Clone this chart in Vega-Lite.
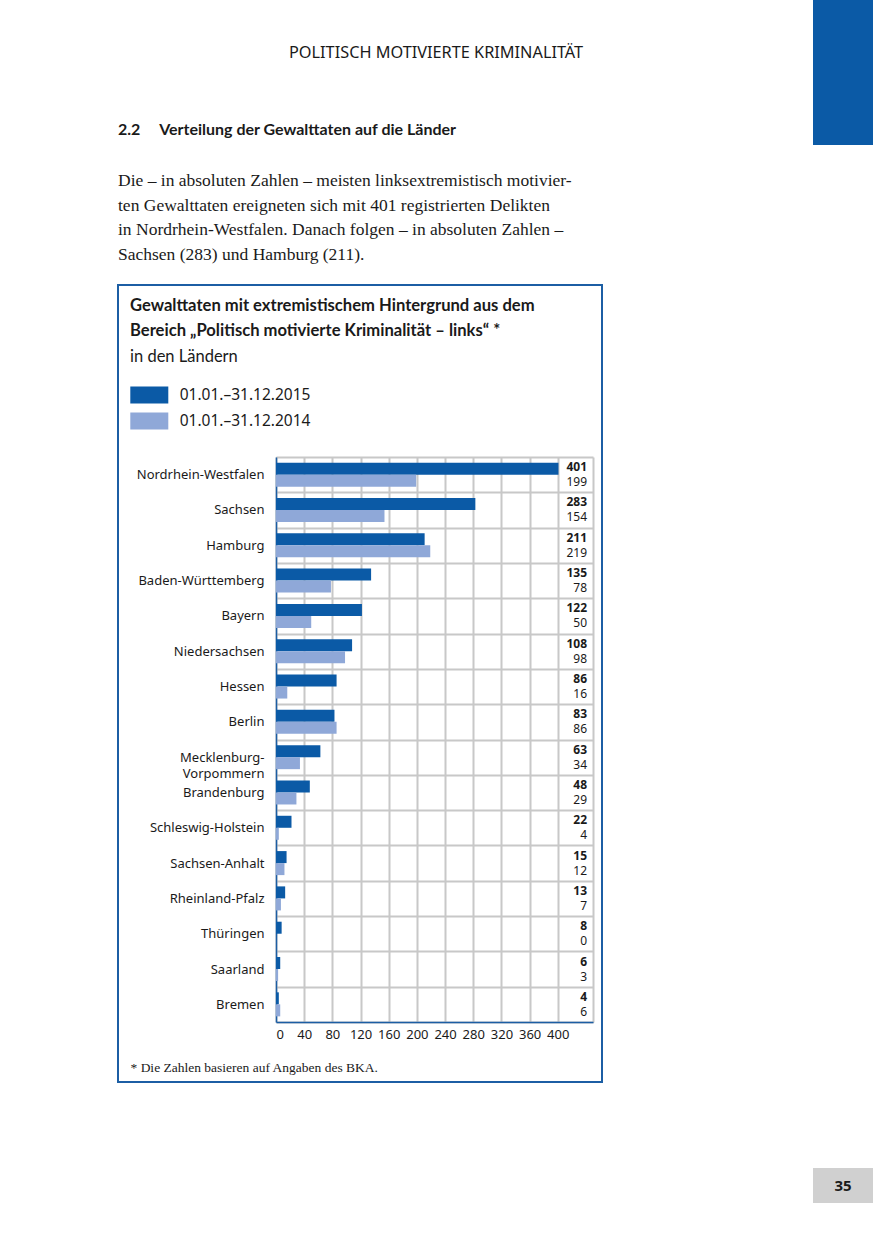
{
  "$schema": "https://vega.github.io/schema/vega-lite/v6.json",
  "padding": {"left": 117, "top": 0, "right": 0, "bottom": 0},
  "background": "white",
  "config": {
    "font": "Noto Sans",
    "view": {"stroke": null},
    "title": {"color": "#1a1a1a", "subtitleColor": "#1a1a1a"}
  },
  "datasets": {
    "laender": [
      {"land": "Nordrhein-Westfalen", "zeitraum": "01.01.–31.12.2015", "anzahl": 401},
      {"land": "Nordrhein-Westfalen", "zeitraum": "01.01.–31.12.2014", "anzahl": 199},
      {"land": "Sachsen", "zeitraum": "01.01.–31.12.2015", "anzahl": 283},
      {"land": "Sachsen", "zeitraum": "01.01.–31.12.2014", "anzahl": 154},
      {"land": "Hamburg", "zeitraum": "01.01.–31.12.2015", "anzahl": 211},
      {"land": "Hamburg", "zeitraum": "01.01.–31.12.2014", "anzahl": 219},
      {"land": "Baden-Württemberg", "zeitraum": "01.01.–31.12.2015", "anzahl": 135},
      {"land": "Baden-Württemberg", "zeitraum": "01.01.–31.12.2014", "anzahl": 78},
      {"land": "Bayern", "zeitraum": "01.01.–31.12.2015", "anzahl": 122},
      {"land": "Bayern", "zeitraum": "01.01.–31.12.2014", "anzahl": 50},
      {"land": "Niedersachsen", "zeitraum": "01.01.–31.12.2015", "anzahl": 108},
      {"land": "Niedersachsen", "zeitraum": "01.01.–31.12.2014", "anzahl": 98},
      {"land": "Hessen", "zeitraum": "01.01.–31.12.2015", "anzahl": 86},
      {"land": "Hessen", "zeitraum": "01.01.–31.12.2014", "anzahl": 16},
      {"land": "Berlin", "zeitraum": "01.01.–31.12.2015", "anzahl": 83},
      {"land": "Berlin", "zeitraum": "01.01.–31.12.2014", "anzahl": 86},
      {"land": "Mecklenburg-Vorpommern", "zeitraum": "01.01.–31.12.2015", "anzahl": 63},
      {"land": "Mecklenburg-Vorpommern", "zeitraum": "01.01.–31.12.2014", "anzahl": 34},
      {"land": "Brandenburg", "zeitraum": "01.01.–31.12.2015", "anzahl": 48},
      {"land": "Brandenburg", "zeitraum": "01.01.–31.12.2014", "anzahl": 29},
      {"land": "Schleswig-Holstein", "zeitraum": "01.01.–31.12.2015", "anzahl": 22},
      {"land": "Schleswig-Holstein", "zeitraum": "01.01.–31.12.2014", "anzahl": 4},
      {"land": "Sachsen-Anhalt", "zeitraum": "01.01.–31.12.2015", "anzahl": 15},
      {"land": "Sachsen-Anhalt", "zeitraum": "01.01.–31.12.2014", "anzahl": 12},
      {"land": "Rheinland-Pfalz", "zeitraum": "01.01.–31.12.2015", "anzahl": 13},
      {"land": "Rheinland-Pfalz", "zeitraum": "01.01.–31.12.2014", "anzahl": 7},
      {"land": "Thüringen", "zeitraum": "01.01.–31.12.2015", "anzahl": 8},
      {"land": "Thüringen", "zeitraum": "01.01.–31.12.2014", "anzahl": 0},
      {"land": "Saarland", "zeitraum": "01.01.–31.12.2015", "anzahl": 6},
      {"land": "Saarland", "zeitraum": "01.01.–31.12.2014", "anzahl": 3},
      {"land": "Bremen", "zeitraum": "01.01.–31.12.2015", "anzahl": 4},
      {"land": "Bremen", "zeitraum": "01.01.–31.12.2014", "anzahl": 6}
    ]
  },
  "spacing": 210,
  "hconcat": [
    {
      "spacing": 0,
      "vconcat": [
        {
          "width": 484, "height": 110,
          "title": {
            "text": "POLITISCH MOTIVIERTE KRIMINALITÄT",
            "anchor": "start", "frame": "group", "dx": 171, "offset": -61,
            "font": "Noto Sans", "fontSize": 16.3, "fontWeight": "normal"
          },
          "data": {"values": [{"leer": ""}]},
          "mark": {"type": "text"},
          "encoding": {"text": {"field": "leer", "type": "nominal"}}
        },
        {
          "width": 484, "height": 168,
          "title": {
            "text": "2.2\u00a0\u00a0\u00a0\u00a0\u00a0Verteilung der Gewalttaten auf die Länder",
            "subtitle": [
              "Die – in absoluten Zahlen – meisten linksextremistisch motivier-",
              "ten Gewalttaten ereigneten sich mit 401 registrierten Delikten",
              "in Nordrhein-Westfalen. Danach folgen – in absoluten Zahlen –",
              "Sachsen (283) und Hamburg (211)."
            ],
            "anchor": "start", "frame": "group", "offset": -153,
            "font": "Lato", "fontSize": 16, "fontWeight": "bold",
            "subtitleFont": "Liberation Serif", "subtitleFontSize": 17.5,
            "subtitleLineHeight": 24.5, "subtitlePadding": 34
          },
          "data": {"values": [{"leer": ""}]},
          "mark": {"type": "text"},
          "encoding": {"text": {"field": "leer", "type": "nominal"}}
        },
        {
          "width": 484,
          "height": 797,
          "view": {"stroke": "#1c5ea4", "strokeWidth": 2, "fill": "white"},
          "title": {
            "text": [
              "Gewalttaten mit extremistischem Hintergrund aus dem",
              "Bereich „Politisch motivierte Kriminalität – links“ *"
            ],
            "subtitle": "in den Ländern",
            "anchor": "start", "frame": "group", "dx": 12, "offset": -86,
            "font": "Lato", "fontSize": 16.6, "fontWeight": "bold", "lineHeight": 25,
            "subtitleFont": "Lato", "subtitleFontSize": 16.5, "subtitleFontWeight": "normal",
            "subtitlePadding": 9
          },
          "data": {"name": "laender"},
          "resolve": {"axis": {"x": "independent"}},
          "encoding": {
            "y": {
              "field": "land", "type": "nominal",
              "scale": {
                "domain": ["Nordrhein-Westfalen", "Sachsen", "Hamburg", "Baden-Württemberg", "Bayern", "Niedersachsen", "Hessen", "Berlin", "Mecklenburg-Vorpommern", "Brandenburg", "Schleswig-Holstein", "Sachsen-Anhalt", "Rheinland-Pfalz", "Thüringen", "Saarland", "Bremen"],
                "range": [172, 737], "paddingInner": 0, "paddingOuter": 0
              },
              "axis": {
                "orient": "left", "offset": -158, "title": null, "ticks": false,
                "domainColor": "#1c5ea4", "domainWidth": 1.5,
                "labelFont": "Noto Sans", "labelFontSize": 13, "labelColor": "#1a1a1a",
                "labelPadding": 12, "labelLineHeight": 16,
                "labelExpr": "datum.value == 'Mecklenburg-Vorpommern' ? ['Mecklenburg-', 'Vorpommern'] : datum.label",
                "grid": true, "gridColor": "#c8c8c8", "gridWidth": 2, "tickBand": "extent"
              }
            },
            "yOffset": {
              "field": "zeitraum", "type": "nominal",
              "scale": {"domain": ["01.01.–31.12.2015", "01.01.–31.12.2014"], "paddingInner": 0, "paddingOuter": 0.47}
            }
          },
          "layer": [
            {
              "mark": {"type": "bar"},
              "encoding": {
                "x": {
                  "field": "anzahl", "type": "quantitative",
                  "scale": {"domain": [0, 450], "range": [158, 475], "nice": false},
                  "axis": {
                    "orient": "bottom", "offset": -60,
                    "values": [0, 40, 80, 120, 160, 200, 240, 280, 320, 360, 400],
                    "ticks": false, "grid": false,
                    "domainColor": "#1c5ea4", "domainWidth": 1.5,
                    "labelFont": "Noto Sans", "labelFontSize": 13, "labelColor": "#1a1a1a", "labelPadding": 6,
                    "title": "* Die Zahlen basieren auf Angaben des BKA.",
                    "titleFont": "Liberation Serif", "titleFontSize": 13.5, "titleFontWeight": "normal",
                    "titleColor": "#1a1a1a", "titleAnchor": "start", "titleAlign": "left",
                    "titleX": 12, "titleY": 45, "titleBaseline": "middle"
                  }
                },
                "color": {
                  "field": "zeitraum", "type": "nominal",
                  "scale": {"domain": ["01.01.–31.12.2015", "01.01.–31.12.2014"], "range": ["#0b5aa6", "#8fa8d8"]},
                  "legend": {
                    "orient": "none", "legendX": 14.3, "legendY": 378, "title": null,
                    "symbolType": "M-1.14,-0.51H1.14V0.51H-1.14Z", "symbolSize": 1111,
                    "symbolStrokeWidth": 0, "symbolOpacity": 1,
                    "labelFont": "Noto Sans", "labelFontSize": 15.5, "labelColor": "#1a1a1a",
                    "labelOffset": 13.4, "rowPadding": 0, "padding": 0
                  }
                }
              }
            },
            {
              "transform": [{"filter": "datum.zeitraum == '01.01.–31.12.2015'"}],
              "mark": {"type": "text", "align": "right", "baseline": "middle", "dy": -1.5, "font": "Noto Sans", "fontSize": 12, "fontWeight": "bold", "color": "#1a1a1a"},
              "encoding": {
                "x": {
                  "datum": 441.5, "type": "quantitative",
                  "axis": {
                    "orient": "top", "values": [0, 40, 80, 120, 160, 200, 240, 280, 320, 360, 400, 450],
                    "grid": true, "gridColor": "#c8c8c8", "gridWidth": 2,
                    "labels": false, "ticks": false, "domain": false, "title": null,
                    "minExtent": 0, "maxExtent": 0
                  }
                },
                "text": {"field": "anzahl", "type": "quantitative"}
              }
            },
            {
              "transform": [{"filter": "datum.zeitraum == '01.01.–31.12.2014'"}],
              "mark": {"type": "text", "align": "right", "baseline": "middle", "dy": 1.5, "font": "Noto Sans", "fontSize": 12, "fontWeight": "normal", "color": "#1a1a1a"},
              "encoding": {
                "x": {"datum": 441.5, "type": "quantitative", "axis": null},
                "text": {"field": "anzahl", "type": "quantitative"}
              }
            }
          ]
        }
      ]
    },
    {
      "spacing": 1023,
      "vconcat": [
        {
          "width": 60, "height": 145,
          "view": {"fill": "#0b5aa6", "stroke": null},
          "data": {"values": [{"seite": ""}]},
          "mark": {"type": "text"},
          "encoding": {"text": {"field": "seite", "type": "nominal"}}
        },
        {
          "width": 60, "height": 35,
          "view": {"fill": "#d0d0d0", "stroke": null},
          "data": {"values": [{"seite": "35"}]},
          "mark": {"type": "text", "font": "Noto Sans", "fontSize": 15, "fontWeight": "bold", "color": "#1a1a1a"},
          "encoding": {"text": {"field": "seite", "type": "nominal"}}
        }
      ]
    }
  ]
}
